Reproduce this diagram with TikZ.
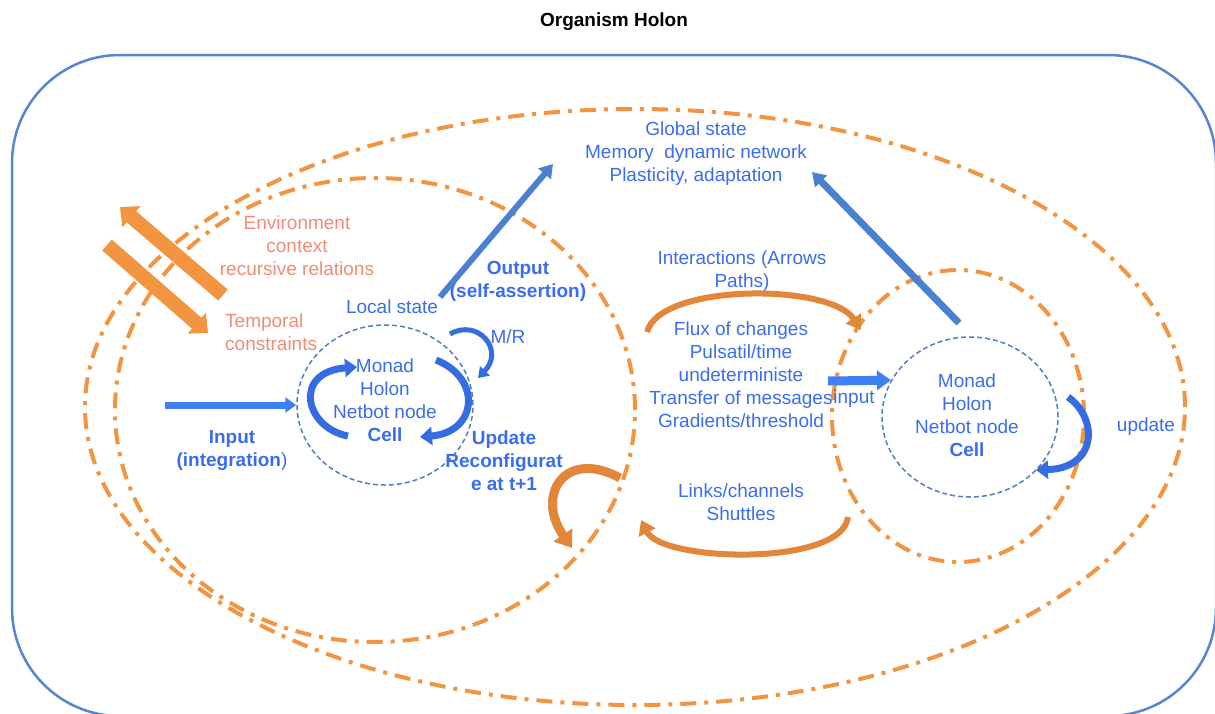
\documentclass[tikz,border=0pt]{standalone}
\usepackage{fontspec}
\setmainfont{Liberation Sans}
\usetikzlibrary{arrows.meta,shapes.geometric}
\definecolor{holonorange}{RGB}{242,148,64}
\definecolor{frameblue}{RGB}{86,134,206}
\definecolor{ringblue}{RGB}{80,126,192}
\definecolor{textblue}{RGB}{58,108,240}
\definecolor{salmon}{RGB}{240,140,118}
\definecolor{steelarrow}{RGB}{74,128,208}
\definecolor{brightarrow}{RGB}{64,128,246}
\definecolor{arcblue}{RGB}{52,108,226}
\definecolor{arcorange}{RGB}{226,134,58}
\tikzset{
  holon/.style={draw=holonorange, line width=4pt, dash pattern=on 16pt off 8pt on 4pt off 8pt},
  cellring/.style={ellipse, draw=ringblue, line width=1.5pt, dash pattern=on 5pt off 3pt, minimum width=176pt, minimum height=160pt, inner sep=0pt},
  txt/.style={text=textblue, align=center, inner sep=0pt, font=\fontsize{19}{23}\selectfont},
  boldtxt/.style={txt, font=\fontsize{19}{23}\selectfont\bfseries},
  envtxt/.style={txt, text=salmon},
  fatarrow/.style={draw=holonorange, line width=14.5pt, -{Triangle[width=27pt,length=15pt]}},
  bluearrow/.style={draw=steelarrow, line width=6pt, -{Triangle[width=16pt,length=13pt]}},
  inarrow/.style={draw=brightarrow, line width=7pt, -{Triangle[width=15pt,length=11pt]}},
  bluebend/.style={draw=arcblue, line width=7pt, -{Triangle[width=18pt,length=12pt]}},
  orangebend/.style={draw=arcorange, line width=6pt, -{Triangle[width=18pt,length=14pt]}}
}

\begin{document}
\begin{tikzpicture}[x=1pt,y=-1pt]
    \useasboundingbox (0,0) rectangle (1215,713);
    \node[font=\fontsize{19}{23}\selectfont\bfseries, inner sep=0pt] (title) at (614,22) {Organism Holon};
    \draw[frameblue, line width=2.5pt, rounded corners=108pt] (12,55) rectangle (1216,716);

    % arrow ends
    \coordinate (envTail) at (223,295);
    \coordinate (envTip) at (120,207);
    \coordinate (tempTail) at (107,245);
    \coordinate (tempTip) at (208,333);
    \coordinate (inTail) at (165,405);
    \coordinate (outTail) at (440,297);
    \coordinate (outTip) at (553,164);
    \coordinate (globTail) at (959,323);
    \coordinate (globTip) at (812,172);
    \coordinate (inRTail) at (828,381);

    \draw[fatarrow] (envTail) -- (envTip);
    \draw[fatarrow] (tempTail) -- (tempTip);

    % holon boundaries
    \draw[holon] (635,407) ellipse [x radius=550pt, y radius=298pt];
    \draw[holon] (375,410) ellipse [x radius=260pt, y radius=232pt];
    \draw[holon] (958,416) ellipse [x radius=126pt, y radius=146pt];

    \node[cellring] (ring1) at (385,405) {};
    \node[cellring] (ring2) at (970,417) {};

    \node[txt] (global) at (696,154) {Global state\\Memory\ \ dynamic network\\Plasticity, adaptation};
    \node[envtxt] (env) at (297,246) {Environment\\context\\recursive relations};
    \node[envtxt, align=left, anchor=west] (temporal) at (225,332) {Temporal\\constraints};
    \node[boldtxt] (output) at (518,281) {Output\\(self-assertion)};
    \node[txt] (local) at (392,307) {Local state};
    \node[txt] (mr) at (508,337) {M/R};
    \node[txt] (cell1) at (385,400) {Monad\\Holon\\Netbot node\\\textbf{Cell}};
    \node[txt] (input) at (232,450) {\textbf{Input}\\\textbf{(integration})};
    \node[boldtxt] (update) at (504,461) {Update\\Reconfigurat\\e at t+1};
    \node[txt] (interact) at (742,271) {Interactions (Arrows\\Paths)};
    \node[txt] (flux) at (741,375) {Flux of changes\\Pulsatil/time\\undeterministe\\Transfer of messages\\Gradients/threshold};
    \node[txt] (inputr) at (854,399) {input};
    \node[txt] (cell2) at (967,415) {Monad\\Holon\\Netbot node\\\textbf{Cell}};
    \node[txt] (updater) at (1146,427) {update};
    \node[txt] (links) at (741,502) {Links/channels\\Shuttles};

    \draw[inarrow] (inTail) -- (ring1.west);
    \draw[inarrow, line width=9pt, -{Triangle[width=19pt,length=14pt]}] (inRTail) -- (ring2.155);
    \draw[bluearrow] (outTail) -- (outTip);
    \draw[bluearrow, line width=7pt] (globTail) -- (globTip);

    \draw[bluebend] (348,436) .. controls (305,428) and (292,372) .. (357,367);
    \draw[bluebend] (436,360) .. controls (482,378) and (478,432) .. (420,437);
    \draw[bluebend, line width=5pt, -{Triangle[width=13pt,length=10pt]}] (450,334) .. controls (478,318) and (505,350) .. (478,378);
    \draw[bluebend] (1068,397) .. controls (1098,418) and (1098,468) .. (1036,470);

    \draw[orangebend, line width=9pt, -{Triangle[width=22pt,length=16pt]}] (620,478) .. controls (565,448) and (535,495) .. (572,548);
    \draw[orangebend] (647,332) .. controls (660,283) and (830,283) .. (861,330);
    \draw[orangebend] (848,517) .. controls (842,567) and (662,562) .. (641,520);
\end{tikzpicture}
\end{document}
